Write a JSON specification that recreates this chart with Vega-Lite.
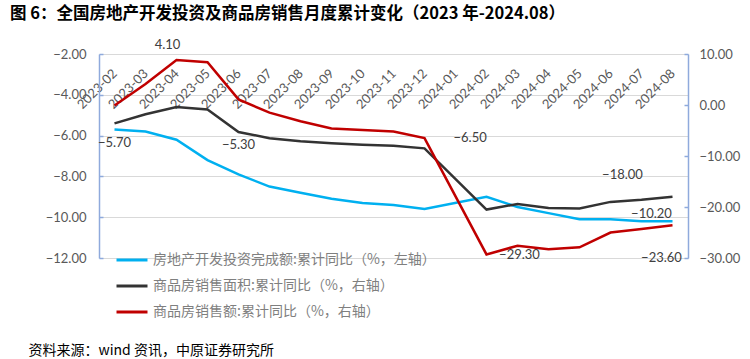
{
  "$schema": "https://vega.github.io/schema/vega-lite/v6.json",
  "width": 589,
  "height": 204,
  "autosize": "none",
  "padding": {"left": 99, "top": 54, "right": 62, "bottom": 101},
  "background": "white",
  "title": {
    "text": "图 6：全国房地产开发投资及商品房销售月度累计变化（2023 年-2024.08）",
    "anchor": "start",
    "frame": "group",
    "font": "Noto Sans CJK SC",
    "fontSize": 16.5,
    "fontWeight": "bold",
    "color": "black",
    "dx": -89,
    "offset": 17
  },
  "config": {
    "view": {"stroke": null},
    "font": "Lato",
    "legend": {"orient": "none"}
  },
  "data": {
    "values": [
      {"month": "2023-02", "series": "房地产开发投资完成额:累计同比（%，左轴）", "value": -5.7},
      {"month": "2023-03", "series": "房地产开发投资完成额:累计同比（%，左轴）", "value": -5.8},
      {"month": "2023-04", "series": "房地产开发投资完成额:累计同比（%，左轴）", "value": -6.2},
      {"month": "2023-05", "series": "房地产开发投资完成额:累计同比（%，左轴）", "value": -7.2},
      {"month": "2023-06", "series": "房地产开发投资完成额:累计同比（%，左轴）", "value": -7.9},
      {"month": "2023-07", "series": "房地产开发投资完成额:累计同比（%，左轴）", "value": -8.5},
      {"month": "2023-08", "series": "房地产开发投资完成额:累计同比（%，左轴）", "value": -8.8},
      {"month": "2023-09", "series": "房地产开发投资完成额:累计同比（%，左轴）", "value": -9.1},
      {"month": "2023-10", "series": "房地产开发投资完成额:累计同比（%，左轴）", "value": -9.3},
      {"month": "2023-11", "series": "房地产开发投资完成额:累计同比（%，左轴）", "value": -9.4},
      {"month": "2023-12", "series": "房地产开发投资完成额:累计同比（%，左轴）", "value": -9.6},
      {"month": "2024-02", "series": "房地产开发投资完成额:累计同比（%，左轴）", "value": -9.0},
      {"month": "2024-03", "series": "房地产开发投资完成额:累计同比（%，左轴）", "value": -9.5},
      {"month": "2024-04", "series": "房地产开发投资完成额:累计同比（%，左轴）", "value": -9.8},
      {"month": "2024-05", "series": "房地产开发投资完成额:累计同比（%，左轴）", "value": -10.1},
      {"month": "2024-06", "series": "房地产开发投资完成额:累计同比（%，左轴）", "value": -10.1},
      {"month": "2024-07", "series": "房地产开发投资完成额:累计同比（%，左轴）", "value": -10.2},
      {"month": "2024-08", "series": "房地产开发投资完成额:累计同比（%，左轴）", "value": -10.2},
      {"month": "2023-02", "series": "商品房销售面积:累计同比（%，右轴）", "value": -3.6},
      {"month": "2023-03", "series": "商品房销售面积:累计同比（%，右轴）", "value": -1.8},
      {"month": "2023-04", "series": "商品房销售面积:累计同比（%，右轴）", "value": -0.4},
      {"month": "2023-05", "series": "商品房销售面积:累计同比（%，右轴）", "value": -0.9},
      {"month": "2023-06", "series": "商品房销售面积:累计同比（%，右轴）", "value": -5.3},
      {"month": "2023-07", "series": "商品房销售面积:累计同比（%，右轴）", "value": -6.5},
      {"month": "2023-08", "series": "商品房销售面积:累计同比（%，右轴）", "value": -7.1},
      {"month": "2023-09", "series": "商品房销售面积:累计同比（%，右轴）", "value": -7.5},
      {"month": "2023-10", "series": "商品房销售面积:累计同比（%，右轴）", "value": -7.8},
      {"month": "2023-11", "series": "商品房销售面积:累计同比（%，右轴）", "value": -8.0},
      {"month": "2023-12", "series": "商品房销售面积:累计同比（%，右轴）", "value": -8.5},
      {"month": "2024-02", "series": "商品房销售面积:累计同比（%，右轴）", "value": -20.5},
      {"month": "2024-03", "series": "商品房销售面积:累计同比（%，右轴）", "value": -19.4},
      {"month": "2024-04", "series": "商品房销售面积:累计同比（%，右轴）", "value": -20.2},
      {"month": "2024-05", "series": "商品房销售面积:累计同比（%，右轴）", "value": -20.3},
      {"month": "2024-06", "series": "商品房销售面积:累计同比（%，右轴）", "value": -19.0},
      {"month": "2024-07", "series": "商品房销售面积:累计同比（%，右轴）", "value": -18.6},
      {"month": "2024-08", "series": "商品房销售面积:累计同比（%，右轴）", "value": -18.0},
      {"month": "2023-02", "series": "商品房销售额:累计同比（%，右轴）", "value": -0.1},
      {"month": "2023-03", "series": "商品房销售额:累计同比（%，右轴）", "value": 4.1},
      {"month": "2023-04", "series": "商品房销售额:累计同比（%，右轴）", "value": 8.8},
      {"month": "2023-05", "series": "商品房销售额:累计同比（%，右轴）", "value": 8.4},
      {"month": "2023-06", "series": "商品房销售额:累计同比（%，右轴）", "value": 1.1},
      {"month": "2023-07", "series": "商品房销售额:累计同比（%，右轴）", "value": -1.5},
      {"month": "2023-08", "series": "商品房销售额:累计同比（%，右轴）", "value": -3.2},
      {"month": "2023-09", "series": "商品房销售额:累计同比（%，右轴）", "value": -4.6},
      {"month": "2023-10", "series": "商品房销售额:累计同比（%，右轴）", "value": -4.9},
      {"month": "2023-11", "series": "商品房销售额:累计同比（%，右轴）", "value": -5.2},
      {"month": "2023-12", "series": "商品房销售额:累计同比（%，右轴）", "value": -6.5},
      {"month": "2024-02", "series": "商品房销售额:累计同比（%，右轴）", "value": -29.3},
      {"month": "2024-03", "series": "商品房销售额:累计同比（%，右轴）", "value": -27.6},
      {"month": "2024-04", "series": "商品房销售额:累计同比（%，右轴）", "value": -28.3},
      {"month": "2024-05", "series": "商品房销售额:累计同比（%，右轴）", "value": -27.9},
      {"month": "2024-06", "series": "商品房销售额:累计同比（%，右轴）", "value": -25.0},
      {"month": "2024-07", "series": "商品房销售额:累计同比（%，右轴）", "value": -24.3},
      {"month": "2024-08", "series": "商品房销售额:累计同比（%，右轴）", "value": -23.6}
    ]
  },
  "resolve": {"scale": {"y": "independent"}, "axis": {"x": "independent"}},
  "layer": [
    {
      "transform": [{"filter": "indexof(datum.series, '左轴') >= 0"}],
      "encoding": {
        "x": {
          "field": "month", "type": "ordinal",
          "scale": {"type": "point", "padding": 0.5, "domain": ["2023-02","2023-03","2023-04","2023-05","2023-06","2023-07","2023-08","2023-09","2023-10","2023-11","2023-12","2024-01","2024-02","2024-03","2024-04","2024-05","2024-06","2024-07","2024-08"]},
          "axis": {"orient": "top", "title": null, "domain": false, "ticks": false, "grid": false, "labelAngle": -45, "labelAlign": "right", "labelBaseline": "middle", "labelPadding": -17, "labelFontSize": 13, "labelColor": "#595959", "labelFont": "Lato"}
        },
        "y": {
          "field": "value", "type": "quantitative",
          "scale": {"domain": [-12, -2], "nice": false, "zero": false},
          "axis": {"orient": "left", "title": null, "values": [-2,-4,-6,-8,-10,-12], "format": ".2f", "grid": true, "gridColor": "#D9D9D9", "gridWidth": 1, "domainColor": "#8FAADC", "domainWidth": 1.5, "tickColor": "#8FAADC", "tickWidth": 1.5, "tickSize": -4, "labelPadding": 17, "labelFontSize": 13, "labelColor": "#595959", "labelFont": "Lato"}
        }
      },
      "layer": [
        {
          "mark": {"type": "line", "strokeWidth": 2.5},
          "encoding": {
            "color": {
              "field": "series", "type": "nominal",
              "scale": {"domain": ["房地产开发投资完成额:累计同比（%，左轴）", "商品房销售面积:累计同比（%，右轴）", "商品房销售额:累计同比（%，右轴）"], "range": ["#00B0F0", "#333333", "#C00000"]},
              "legend": {"title": null, "legendX": 16, "legendY": 189, "symbolType": "stroke", "symbolSize": 961, "symbolStrokeWidth": 3, "labelFont": "Noto Sans CJK SC", "labelFontSize": 14, "labelColor": "#7F7F7F", "labelOffset": 4, "labelLimit": 0, "rowPadding": 2}
            }
          }
        },
        {
          "transform": [{"filter": "datum.month === '2023-02'"}],
          "mark": {"type": "text", "dy": 14, "fontSize": 13, "color": "#404040", "font": "Lato"},
          "encoding": {"text": {"field": "value", "format": ".2f"}}
        },
        {
          "transform": [{"filter": "datum.month === '2024-08'"}],
          "mark": {"type": "text", "dx": -21, "dy": -7, "fontSize": 13, "color": "#404040", "font": "Lato"},
          "encoding": {"text": {"field": "value", "format": ".2f"}}
        }
      ]
    },
    {
      "transform": [{"filter": "indexof(datum.series, '右轴') >= 0"}],
      "encoding": {
        "x": {
          "field": "month", "type": "ordinal",
          "axis": {"orient": "bottom", "labels": false, "ticks": false, "domain": false, "grid": false, "title": "资料来源：wind 资讯，中原证券研究所", "titleFont": "Noto Sans CJK SC", "titleFontSize": 14, "titleFontWeight": "normal", "titleColor": "black", "titleAnchor": "start", "titleAlign": "left", "titleBaseline": "middle", "titleX": -71, "titleY": 92}
        },
        "y": {
          "field": "value", "type": "quantitative",
          "scale": {"domain": [-30, 10], "nice": false, "zero": false},
          "axis": {"orient": "right", "title": null, "values": [10,0,-10,-20,-30], "format": ".2f", "grid": false, "domainColor": "#8FAADC", "domainWidth": 1.5, "tickColor": "#8FAADC", "tickWidth": 1.5, "tickSize": -4, "labelPadding": 15, "labelFontSize": 13, "labelColor": "#595959", "labelFont": "Lato"}
        }
      },
      "layer": [
        {
          "mark": {"type": "line", "strokeWidth": 2.5},
          "encoding": {"color": {"field": "series", "type": "nominal"}}
        },
        {
          "transform": [{"filter": "datum.month === '2023-06' && indexof(datum.series, '面积') >= 0"}],
          "mark": {"type": "text", "dy": 13, "fontSize": 13, "color": "#404040", "font": "Lato"},
          "encoding": {"text": {"field": "value", "format": ".2f"}}
        },
        {
          "transform": [{"filter": "datum.month === '2024-08' && indexof(datum.series, '面积') >= 0"}],
          "mark": {"type": "text", "dx": -50, "dy": -22, "fontSize": 13, "color": "#404040", "font": "Lato"},
          "encoding": {"text": {"field": "value", "format": ".2f"}}
        },
        {
          "transform": [{"filter": "datum.month === '2023-03' && indexof(datum.series, '销售额') >= 0"}],
          "mark": {"type": "text", "dx": 22, "dy": -39, "fontSize": 13, "color": "#404040", "font": "Lato"},
          "encoding": {"text": {"field": "value", "format": ".2f"}}
        },
        {
          "transform": [{"filter": "datum.month === '2023-12' && indexof(datum.series, '销售额') >= 0"}],
          "mark": {"type": "text", "dx": 29, "align": "left", "fontSize": 13, "color": "#404040", "font": "Lato"},
          "encoding": {"text": {"field": "value", "format": ".2f"}}
        },
        {
          "transform": [{"filter": "datum.month === '2024-02' && indexof(datum.series, '销售额') >= 0"}],
          "mark": {"type": "text", "dx": 33, "dy": 1, "fontSize": 13, "color": "#404040", "font": "Lato"},
          "encoding": {"text": {"field": "value", "format": ".2f"}}
        },
        {
          "transform": [{"filter": "datum.month === '2024-08' && indexof(datum.series, '销售额') >= 0"}],
          "mark": {"type": "text", "dx": -11, "dy": 33, "fontSize": 13, "color": "#404040", "font": "Lato"},
          "encoding": {"text": {"field": "value", "format": ".2f"}}
        }
      ]
    }
  ]
}
